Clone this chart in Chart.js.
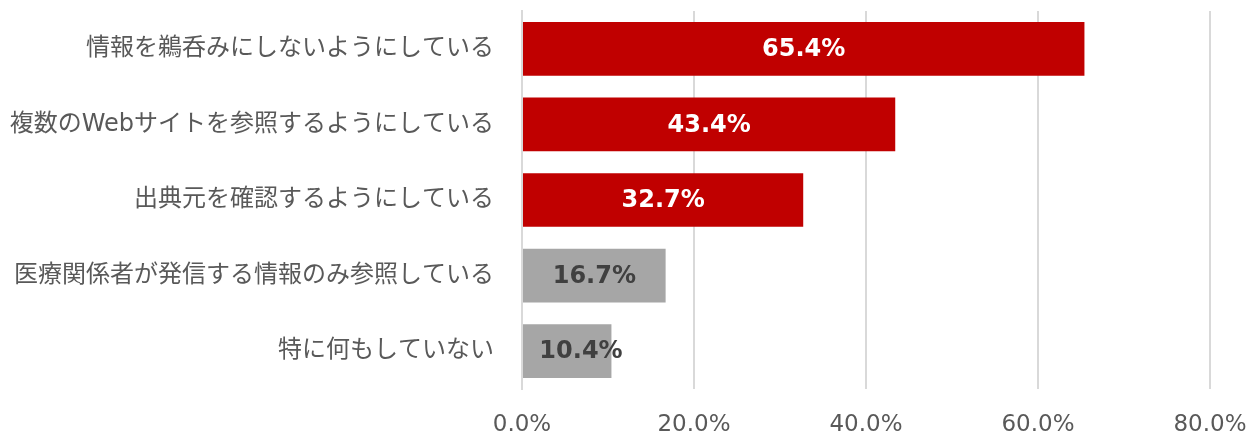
<!DOCTYPE html>
<html>
<head>
<meta charset="utf-8">
<script src="https://cdn.jsdelivr.net/npm/chart.js@4"></script>
<style>
  html, body { margin: 0; padding: 0; background: #fff; }
  #wrap { width: 1250px; height: 435px; }
</style>
</head>
<body>
<div id="wrap"><canvas id="myChart"></canvas></div>
<script>
const categories = [
    '情報を鵜呑みにしないようにしている',
    '複数のWebサイトを参照するようにしている',
    '出典元を確認するようにしている',
    '医療関係者が発信する情報のみ参照している',
    '特に何もしていない'
];
const values = [65.4, 43.4, 32.7, 16.7, 10.4];
const barColors = ['#C00000', '#C00000', '#C00000', '#A6A6A6', '#A6A6A6'];
const labelColors = ['#ffffff', '#ffffff', '#ffffff', '#404040', '#404040'];
const tickValues = [0, 20, 40, 60, 80];

const font = '"DejaVu Sans", "Noto Sans CJK JP", sans-serif';

// value labels drawn in the middle of each bar
const barLabels = {
    id: 'barLabels',
    afterDatasetsDraw(chart) {
        const ctx = chart.ctx;
        const meta = chart.getDatasetMeta(0);
        ctx.save();
        ctx.font = 'bold 24px ' + font;
        ctx.textAlign = 'center';
        ctx.textBaseline = 'middle';
        meta.data.forEach((bar, i) => {
            const mid = (bar.x + bar.base) / 2;
            const x = Math.max(mid, bar.base + 58);
            ctx.fillStyle = labelColors[i];
            ctx.fillText(values[i].toFixed(1) + '%', x, bar.y + 1);
        });
        ctx.restore();
    }
};

const data = {
    labels: categories,
    datasets: [{
        data: values,
        backgroundColor: barColors,
        borderWidth: 0,
        barPercentage: 0.71,
        categoryPercentage: 1
    }]
};

const config = {
    type: 'bar',
    data: data,
    options: {
        indexAxis: 'y',
        responsive: true,
        maintainAspectRatio: false,
        animation: false,
        layout: { padding: { top: 11, right: 40, left: 0, bottom: 0 } },
        plugins: {
            legend: { display: false },
            tooltip: { enabled: false }
        },
        scales: {
            x: {
                min: 0,
                max: 80,
                afterBuildTicks(scale) {
                    scale.ticks = tickValues.map(v => ({ value: v }));
                },
                afterFit(scale) {
                    scale.height = 46;
                    scale.paddingLeft = 0;
                    scale.paddingRight = 0;
                },
                grid: { color: '#d9d9d9', lineWidth: 2, drawTicks: false },
                border: { display: false },
                ticks: {
                    padding: 22,
                    color: '#595959',
                    font: { family: font, size: 23 },
                    callback: v => v.toFixed(1) + '%'
                }
            },
            y: {
                afterFit(scale) {
                    scale.width = 522;
                    scale.paddingTop = 0;
                    scale.paddingBottom = 0;
                },
                grid: { display: false, drawTicks: false },
                border: { display: true, color: '#d9d9d9', width: 2 },
                ticks: {
                    padding: 28,
                    color: '#595959',
                    font: { family: font, size: 24 }
                }
            }
        }
    },
    plugins: [barLabels]
};

const myChart = new Chart(document.getElementById('myChart'), config);
</script>
</body>
</html>
